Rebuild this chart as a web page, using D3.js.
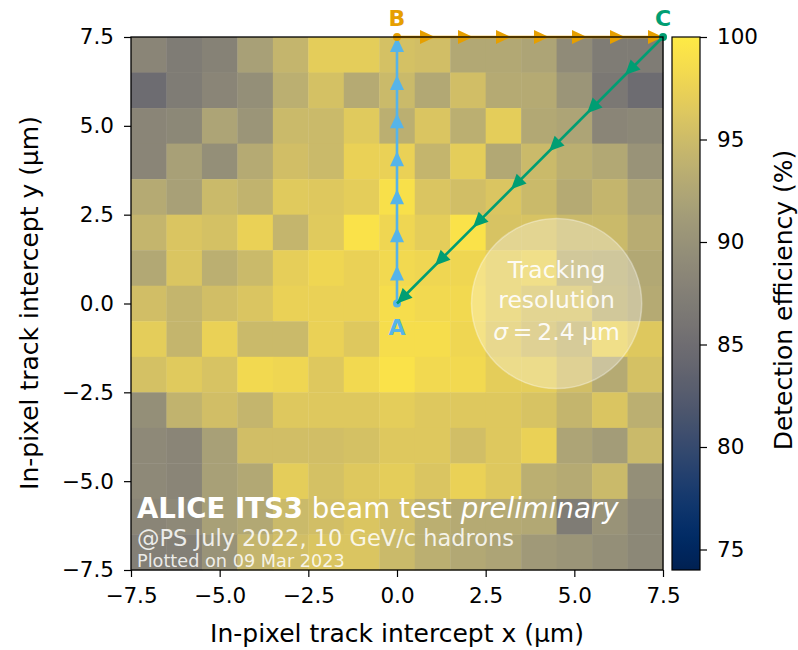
<!DOCTYPE html>
<html>
<head>
<meta charset="utf-8">
<script src="https://cdn.jsdelivr.net/npm/d3@7"></script>
<style>
  html, body { margin: 0; padding: 0; background: #fff; }
  svg text { font-family: "DejaVu Sans", sans-serif; }
</style>
</head>
<body>
<svg id="chart" width="798" height="650"></svg>
<script>
// In-pixel track intercept bin centres (µm)
const xCenters = [-7, -6, -5, -4, -3, -2, -1, 0, 1, 2, 3, 4, 5, 6, 7];
const yCenters = [7, 6, 5, 4, 3, 2, 1, 0, -1, -2, -3, -4, -5, -6, -7];

// Detection efficiency (%) per bin, rows from y = 7 down to y = -7, columns x = -7 ... 7
const effRows = [
  [88.3, 87.0, 87.8, 91.7, 94.3, 96.9, 96.9, 95.6, 95.3, 92.7, 92.7, 92.2, 89.1, 87.0, 87.0],
  [84.9, 87.0, 88.3, 89.6, 93.5, 95.6, 93.0, 94.8, 92.7, 95.3, 93.0, 93.0, 90.4, 86.5, 84.9],
  [88.3, 88.6, 92.2, 90.4, 94.8, 94.8, 96.6, 93.5, 96.1, 93.5, 96.9, 92.7, 92.2, 88.3, 88.6],
  [88.3, 91.7, 89.6, 93.0, 95.3, 94.8, 97.4, 97.4, 94.3, 96.9, 92.7, 94.8, 93.5, 92.7, 90.1],
  [93.0, 91.7, 94.8, 94.0, 96.6, 96.4, 96.9, 99.0, 96.1, 95.3, 96.1, 94.8, 93.0, 94.3, 92.2],
  [94.3, 96.1, 95.6, 97.4, 94.3, 96.6, 99.2, 97.9, 96.9, 99.2, 95.8, 95.8, 94.8, 94.8, 93.2],
  [92.7, 96.1, 93.5, 94.8, 97.1, 97.9, 97.4, 98.2, 97.9, 97.9, 96.9, 97.4, 93.8, 93.5, 92.7],
  [95.3, 94.3, 95.3, 96.1, 97.4, 97.4, 97.4, 98.7, 98.2, 98.2, 96.9, 95.8, 95.8, 93.8, 93.0],
  [96.9, 94.3, 97.4, 94.8, 94.8, 97.4, 96.4, 98.7, 98.7, 97.9, 96.4, 95.3, 94.3, 97.4, 96.4],
  [95.6, 96.6, 95.8, 98.2, 97.9, 96.4, 98.2, 99.2, 98.2, 98.2, 96.9, 96.9, 95.3, 93.0, 95.6],
  [89.6, 94.0, 95.3, 94.3, 96.4, 96.4, 96.4, 96.9, 96.4, 96.4, 96.4, 95.8, 94.3, 96.1, 93.5],
  [88.8, 88.3, 91.7, 95.3, 95.3, 95.3, 95.6, 96.4, 96.4, 95.3, 96.4, 97.4, 92.2, 91.2, 94.8],
  [88.8, 88.3, 91.7, 92.7, 96.9, 95.6, 96.4, 96.9, 96.1, 97.4, 96.4, 93.5, 93.0, 94.8, 89.6],
  [88.3, 88.8, 91.7, 92.7, 94.8, 95.3, 96.1, 95.3, 93.5, 93.0, 93.0, 92.7, 87.0, 90.1, 88.6],
  [87.5, 87.5, 90.1, 94.3, 95.3, 96.1, 96.1, 94.8, 93.5, 92.7, 92.2, 90.9, 90.4, 89.6, 88.6]
];

const axisTicks = [-7.5, -5.0, -2.5, 0.0, 2.5, 5.0, 7.5];
const cbarTicks = [75, 80, 85, 90, 95, 100];
const cbarRange = [74, 100];

// Scan path corners A -> B -> C -> A (µm)
const cornerNames = ["A", "B", "C"];
const cornerX = [0, 0, 7.5];
const cornerY = [0, 7.5, 7.5];
const arrowsPerLeg = 7;
const resolution = 2.4;       // µm
const resolutionCentre = [4.5, 0];

const svg = d3.select("#chart");
const x = d3.scaleLinear().domain([-7.5, 7.5]).range([131, 663]);
const y = d3.scaleLinear().domain([-7.5, 7.5]).range([570, 37]);
const color = d3.scaleSequential(d3.interpolateCividis).domain(cbarRange);

const fmt = v => d3.format(".1f")(v).replace("-", "\u2212");

// Heat map bins
const cells = [];
effRows.forEach((row, i) => row.forEach((v, j) => cells.push({x: xCenters[j], y: yCenters[i], v})));
const cw = x(0.5) - x(-0.5), ch = y(-0.5) - y(0.5);
svg.append("g").selectAll("rect").data(cells).join("rect")
  .attr("x", d => x(d.x - 0.5)).attr("y", d => y(d.y + 0.5))
  .attr("width", cw + 0.4).attr("height", ch + 0.4)
  .attr("fill", d => color(d.v));

// Tracking-resolution disc
const rc = x(resolutionCentre[0]), ryc = y(resolutionCentre[1]);
const rpx = x(resolution) - x(0);
svg.append("circle").attr("cx", rc).attr("cy", ryc).attr("r", rpx)
  .attr("fill", "rgba(255,255,255,0.3)").attr("stroke", "rgba(255,255,255,0.35)").attr("stroke-width", 1.5);
const rt = svg.append("text").attr("x", rc).attr("text-anchor", "middle")
  .attr("fill", "rgba(255,255,255,0.92)").style("font-size", "23.5px");
rt.append("tspan").attr("x", rc).attr("y", ryc - 26).text("Tracking");
rt.append("tspan").attr("x", rc).attr("y", ryc + 4).text("resolution");
const t3 = rt.append("tspan").attr("x", rc).attr("y", ryc + 36);
t3.append("tspan").attr("font-style", "italic").text("\u03c3");
t3.append("tspan").text("\u2009=\u2009" + resolution + " \u00b5m");

// Scan legs with arrowheads
function drawLeg(i0, i1, col) {
  const x0 = x(cornerX[i0]), y0 = y(cornerY[i0]);
  const x1 = x(cornerX[i1]), y1 = y(cornerY[i1]);
  const g = svg.append("g");
  g.append("line").attr("x1", x0).attr("y1", y0).attr("x2", x1).attr("y2", y1)
    .attr("stroke", col).attr("stroke-width", 2.6);
  const ang = Math.atan2(y1 - y0, x1 - x0) * 180 / Math.PI;
  d3.range(1, arrowsPerLeg + 1).forEach(k => {
    const f = k / arrowsPerLeg;
    const dx = cornerX[i0] + (cornerX[i1] - cornerX[i0]) * f;
    const dy = cornerY[i0] + (cornerY[i1] - cornerY[i0]) * f;
    g.append("path").attr("d", "M0,0 L-15,-7 L-15,7 Z")
      .attr("transform", `translate(${x(dx)},${y(dy)}) rotate(${ang})`)
      .attr("fill", col);
  });
  g.append("circle").attr("cx", x0).attr("cy", y0).attr("r", 4).attr("fill", col);
}
drawLeg(0, 1, "#56B4E9");
drawLeg(1, 2, "#E69F00");
drawLeg(2, 0, "#009E73");

// Corner labels
const labelCols = ["#56B4E9", "#E69F00", "#009E73"];
const labelDy = [31, -11, -11];
cornerNames.forEach((n, i) => {
  svg.append("text").attr("x", x(cornerX[i])).attr("y", y(cornerY[i]) + labelDy[i])
    .attr("text-anchor", "middle").attr("fill", labelCols[i])
    .style("font-size", "22px").style("font-weight", "bold").text(n);
});

// Test-beam caption
const cap = svg.append("g").attr("fill", "#fff");
const l1 = cap.append("text").attr("x", 137).attr("y", 518).style("font-size", "27.6px");
l1.append("tspan").attr("font-weight", "bold").text("ALICE ITS3");
l1.append("tspan").text(" beam test ");
l1.append("tspan").attr("font-style", "italic").text("preliminary");
cap.append("text").attr("x", 137).attr("y", 546).style("font-size", "22.5px")
  .attr("fill", "rgba(255,255,255,0.85)").text("@PS July 2022, 10 GeV/c hadrons");
cap.append("text").attr("x", 137).attr("y", 567).style("font-size", "17.7px")
  .attr("fill", "rgba(255,255,255,0.85)").text("Plotted on 09 Mar 2023");

// Frame and axes
svg.append("rect").attr("x", 131).attr("y", 37).attr("width", 532).attr("height", 533)
  .attr("fill", "none").attr("stroke", "#000").attr("stroke-width", 1.3);

const xAxis = svg.append("g").attr("transform", "translate(0,570)")
  .call(d3.axisBottom(x).tickValues(axisTicks).tickFormat(fmt).tickSize(7).tickPadding(8).tickSizeOuter(0));
const yAxis = svg.append("g").attr("transform", "translate(131,0)")
  .call(d3.axisLeft(y).tickValues(axisTicks).tickFormat(fmt).tickSize(7).tickPadding(10).tickSizeOuter(0));
[xAxis, yAxis].forEach(a => {
  a.select(".domain").remove();
  a.selectAll("line").attr("stroke", "#000").attr("stroke-width", 1.2);
  a.selectAll("text").attr("fill", "#000").style("font-size", "21.5px")
    .style("font-family", "DejaVu Sans, sans-serif");
});
xAxis.selectAll("text").attr("dy", "0.85em");

svg.append("text").attr("x", 397).attr("y", 642).attr("text-anchor", "middle")
  .style("font-size", "25px").text("In-pixel track intercept x (\u00b5m)");
svg.append("text").attr("transform", "translate(38,303) rotate(-90)").attr("text-anchor", "middle")
  .style("font-size", "25px").text("In-pixel track intercept y (\u00b5m)");

// Colour bar
const cbX = 672, cbW = 28;
const cy = d3.scaleLinear().domain(cbarRange).range([570, 37]);
const grad = svg.append("defs").append("linearGradient").attr("id", "cbgrad")
  .attr("x1", 0).attr("y1", 1).attr("x2", 0).attr("y2", 0);
d3.range(0, 1.0001, 0.02).forEach(t => {
  grad.append("stop").attr("offset", t).attr("stop-color", d3.interpolateCividis(t));
});
svg.append("rect").attr("x", cbX).attr("y", 37).attr("width", cbW).attr("height", 533)
  .attr("fill", "url(#cbgrad)").attr("stroke", "#000").attr("stroke-width", 1.2);
const cAxis = svg.append("g").attr("transform", `translate(${cbX + cbW},0)`)
  .call(d3.axisRight(cy).tickValues(cbarTicks).tickSize(7).tickPadding(10).tickSizeOuter(0));
cAxis.select(".domain").remove();
cAxis.selectAll("line").attr("stroke", "#000").attr("stroke-width", 1.2);
cAxis.selectAll("text").attr("fill", "#000").style("font-size", "21.5px")
  .style("font-family", "DejaVu Sans, sans-serif");
svg.append("text").attr("transform", "translate(792,300) rotate(-90)").attr("text-anchor", "middle")
  .style("font-size", "25px").text("Detection efficiency (%)");
</script>
</body>
</html>
